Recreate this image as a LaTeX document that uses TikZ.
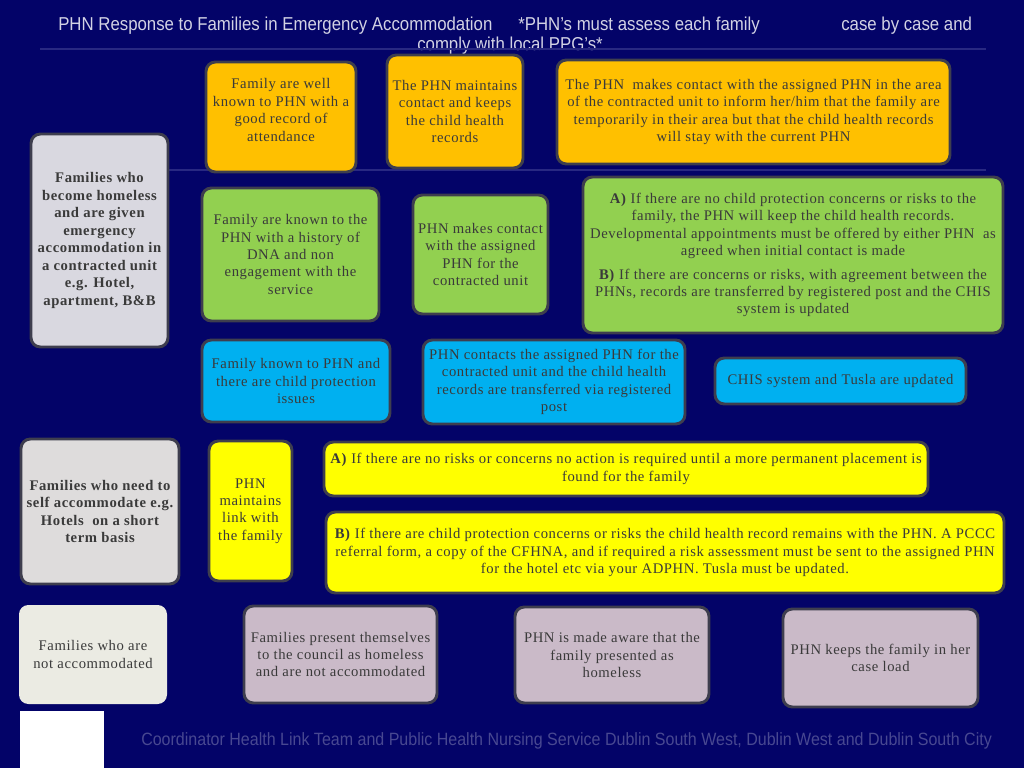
\documentclass[tikz,border=0pt]{standalone}
\usepackage{fontspec}
\setmainfont{Liberation Serif}[LetterSpace=4]
\newfontfamily\titlefont{Liberation Sans}[FakeStretch=0.9]
\definecolor{bgc}{RGB}{3,3,104}
\definecolor{linec}{RGB}{40,40,130}
\definecolor{bordc}{RGB}{62,62,78}
\definecolor{txtc}{RGB}{58,58,58}
\definecolor{orangeF}{HTML}{FFC000}
\definecolor{greenF}{HTML}{92D050}
\definecolor{blueF}{HTML}{00B0F0}
\definecolor{yellowF}{HTML}{FFFF00}
\definecolor{mauveF}{HTML}{CABAC8}
\definecolor{grayA}{HTML}{D9D8E0}
\definecolor{grayB}{HTML}{DEDCDC}
\definecolor{grayC}{HTML}{EBEBE3}
\definecolor{titc}{RGB}{210,210,228}
\definecolor{footc}{RGB}{72,72,145}
\newcommand\pbox[7][]{%
  \pgfmathsetmacro\bw{(#5-#3)*0.75}%
  \pgfmathsetmacro\bh{(#6-#4)*0.75}%
  \node[pb,#1,minimum width=\bw pt,minimum height=\bh pt] (#2) at ({(#3+#5)/2},{(#4+#6)/2}) {#7};}
\begin{document}
\begin{tikzpicture}[x=0.75pt,y=-0.75pt,
  pb/.style={draw=bordc, line width=2.2pt, rounded corners=7pt, inner sep=0pt,
    text=txtc, font=\fontsize{11}{13.1}\selectfont, align=center},
  bold/.style={font=\fontsize{11}{13.1}\selectfont\bfseries},
  titlest/.style={text=titc, font=\titlefont\fontsize{14}{16}\selectfont, inner sep=0pt},
  footst/.style={text=footc, font=\titlefont\fontsize{13.35}{15}\selectfont, inner sep=0pt},
  sepline/.style={draw=linec, line width=1.2pt}]
\fill[bgc] (0,0) rectangle (1024,768);
\useasboundingbox (0,0) rectangle (1024,768);
% title
\node[titlest, anchor=west] (t1) at (58,26) {PHN Response to Families in Emergency Accommodation};
\node[titlest, anchor=west] (t2) at (518,26) {*PHN’s must assess each family};
\node[titlest, anchor=west] (t3) at (841,26) {case by case and};
\node[titlest] (t4) at (510,46) {comply with local PPG’s*};
\draw[sepline] (40,49) -- (986,49);
\draw[sepline] (168,170) -- (986,170);
% left column
\pbox[fill=grayA,bold]{g1}{31}{134}{168}{347}{Families who\\become homeless\\and are given\\emergency\\accommodation in\\a contracted unit\\e.g. Hotel,\\apartment, B\&B}
\pbox[fill=grayB,bold]{g2}{21}{439}{179}{584}{Families who need to\\self accommodate e.g.\\Hotels\ \ on a short\\term basis}
\pbox[fill=grayC,draw=none]{g3}{19}{605}{167}{704}{Families who are\\not accommodated}
\node[fill=white, inner sep=0pt, minimum width=63pt, minimum height=42.75pt, anchor=north west] (wb) at (20,711) {};
% orange row
\pbox[fill=orangeF]{o1}{206}{62}{356}{172}{}
\node[pb, draw=none, fill=none] (o1t) at (281,110) {Family are well\\known to PHN with a\\good record of\\attendance};
\pbox[fill=orangeF]{o2}{387}{55}{523}{168}{The PHN maintains\\contact and keeps\\the child health\\records}
\pbox[fill=orangeF]{o3}{557}{60}{950}{164}{The PHN\ \ makes contact with the assigned PHN in the area\\of the contracted unit to inform her/him that the family are\\temporarily in their area but that the child health records\\will stay with the current PHN}
% green row
\pbox[fill=greenF]{n1}{202}{188}{379}{321}{Family are known to the\\PHN with a history of\\DNA and non\\engagement with the\\service}
\pbox[fill=greenF]{n2}{413}{195}{548}{314}{PHN makes contact\\with the assigned\\PHN for the\\contracted unit}
\pbox[fill=greenF]{n3}{583}{177}{1003}{333}{\textbf{A)} If there are no child protection concerns or risks to the\\family, the PHN will keep the child health records.\\Developmental appointments must be offered by either PHN\ \ as\\agreed when initial contact is made\\[4.5pt]\textbf{B)} If there are concerns or risks, with agreement between the\\PHNs, records are transferred by registered post and the CHIS\\system is updated}
% blue row
\pbox[fill=blueF]{b1}{202}{340}{390}{422}{Family known to PHN and\\there are child protection\\issues}
\pbox[fill=blueF]{b2}{423}{340}{685}{424}{PHN contacts the assigned PHN for the\\contracted unit and the child health\\records are transferred via registered\\post}
\pbox[fill=blueF]{b3}{715}{358}{966}{404}{CHIS system and Tusla are updated}
% yellow row
\pbox[fill=yellowF]{y1}{209}{441}{292}{581}{PHN\\maintains\\link with\\the family}
\pbox[fill=yellowF]{y2}{324}{442}{928}{496}{\textbf{A)} If there are no risks or concerns no action is required until a more permanent placement is\\found for the family}
\pbox[fill=yellowF]{y3}{326}{512}{1004}{593}{\textbf{B)} If there are child protection concerns or risks the child health record remains with the PHN. A PCCC\\referral form, a copy of the CFHNA, and if required a risk assessment must be sent to the assigned PHN\\for the hotel etc via your ADPHN. Tusla must be updated.}
% mauve row
\pbox[fill=mauveF]{m1}{244}{606}{437}{703}{Families present themselves\\to the council as homeless\\and are not accommodated}
\pbox[fill=mauveF]{m2}{515}{607}{709}{703}{PHN is made aware that the\\family presented as\\homeless}
\pbox[fill=mauveF]{m3}{783}{609}{978}{707}{PHN keeps the family in her\\case load}
% footer
\node[footst, anchor=west] (ft) at (141,741) {Coordinator Health Link Team and Public Health Nursing Service Dublin South West, Dublin West and Dublin South City};
\end{tikzpicture}
\end{document}
